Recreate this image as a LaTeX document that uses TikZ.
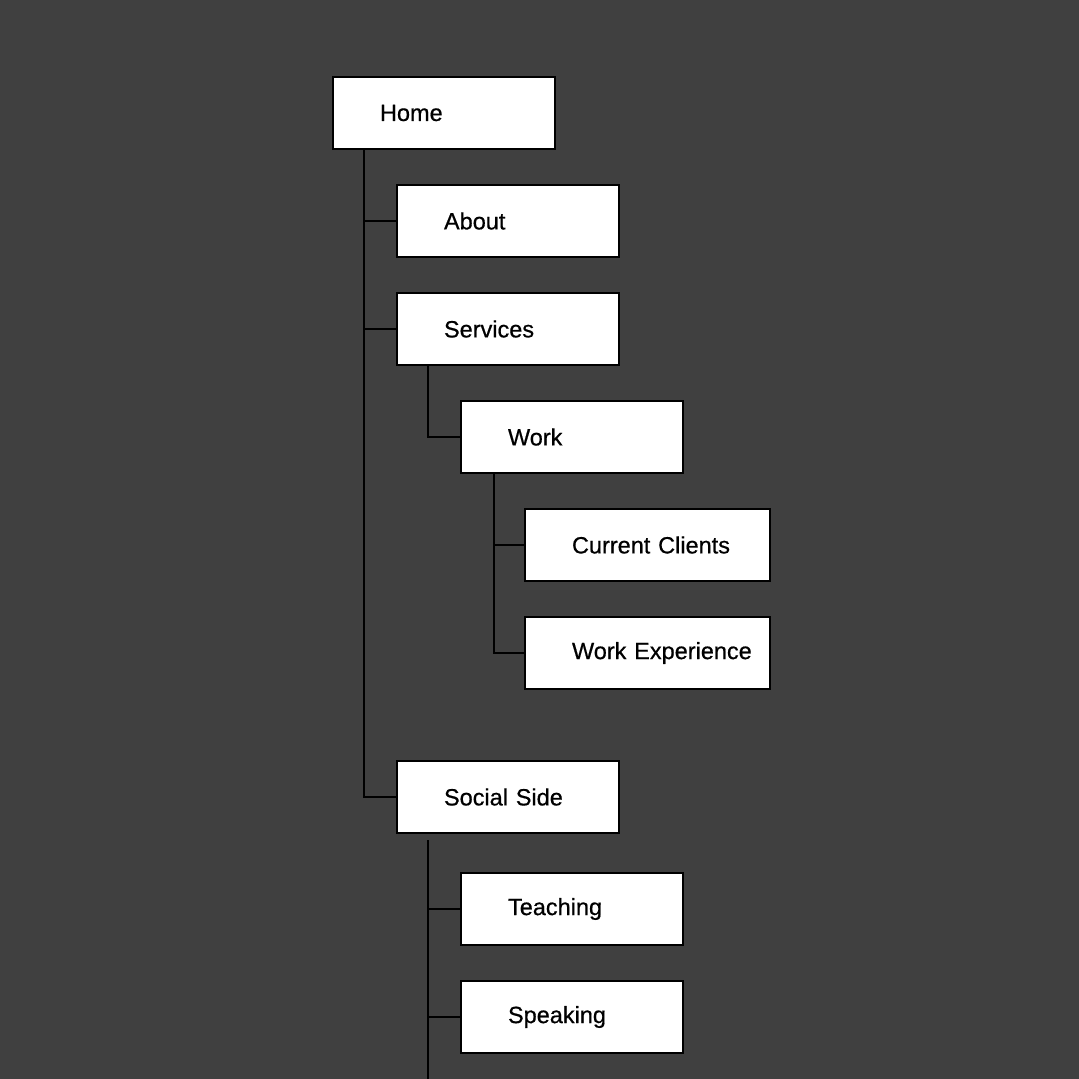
\documentclass[tikz,border=0pt]{standalone}
\usepackage{fontspec}
\setmainfont[FakeBold=0.6]{Liberation Sans}
\definecolor{bgc}{RGB}{64,64,64}
\begin{document}
\begin{tikzpicture}[x=1pt,y=-1pt,
  pagebox/.style={draw=black, fill=white, line width=2pt, inner xsep=0pt, inner ysep=0pt,
    minimum height=72pt, text width=#1, align=left, font=\fontsize{23.5}{28}\selectfont},
  link/.style={draw=black, line width=2pt}]
\fill[bgc] (0,0) rectangle (1079,1079);
\useasboundingbox (0,0) rectangle (1079,1079);
\node[pagebox=222pt] (home) at (444,113) {\hspace*{47pt}Home};
\node[pagebox=222pt] (about) at (508,221) {\hspace*{47pt}About};
\node[pagebox=222pt] (services) at (508,329) {\hspace*{47pt}Services};
\node[pagebox=222pt] (work) at (572,437) {\hspace*{47pt}Work};
\node[pagebox=245pt] (clients) at (647.5,545) {\hspace*{47pt}Current Clients};
\node[pagebox=245pt] (experience) at (647.5,653) {\hspace*{47pt}Work Experience};
\node[pagebox=222pt] (social) at (508,797) {\hspace*{47pt}Social Side};
\node[pagebox=222pt] (teaching) at (572,909) {\hspace*{47pt}Teaching};
\node[pagebox=222pt] (speaking) at (572,1017) {\hspace*{47pt}Speaking};
\coordinate (socialtop) at ([xshift=32pt,yshift=-6pt]social.south west);
\coordinate (socialend) at (socialtop |- 0,1080);
% Home branch
\draw[link] ([xshift=32pt]home.south west) |- (social.west);
\draw[link] ([xshift=32pt]home.south west) |- (about.west);
\draw[link] ([xshift=32pt]home.south west) |- (services.west);
% Services branch
\draw[link] ([xshift=32pt]services.south west) |- (work.west);
% Work branch
\draw[link] ([xshift=34pt]work.south west) |- (experience.west);
\draw[link] ([xshift=34pt]work.south west) |- (clients.west);
% Social branch
\draw[link] (socialtop) -- (socialend);
\draw[link] (socialtop |- teaching.west) -- (teaching.west);
\draw[link] (socialtop |- speaking.west) -- (speaking.west);
\end{tikzpicture}
\end{document}
